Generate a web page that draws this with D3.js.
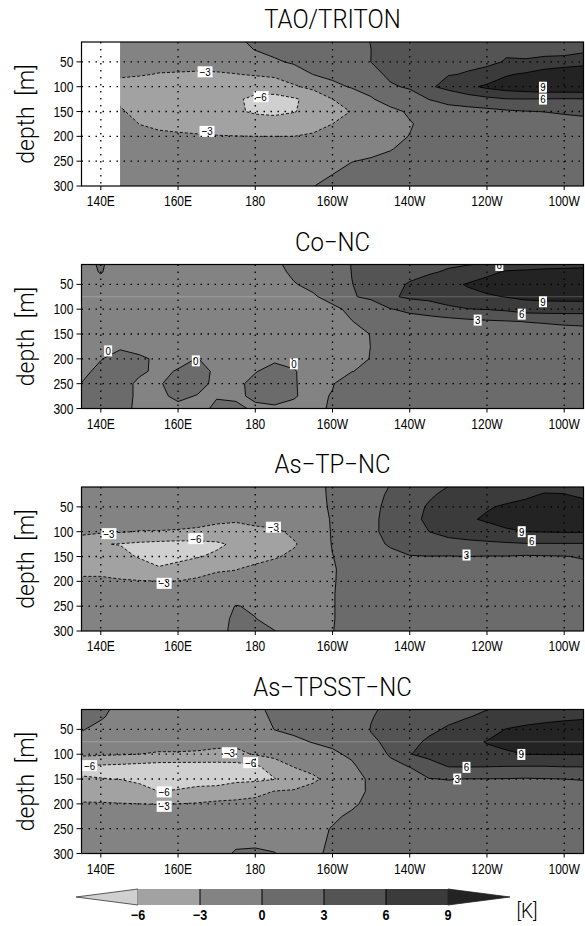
<!DOCTYPE html>
<html>
<head>
<meta charset="utf-8">
<script src="https://cdn.jsdelivr.net/npm/d3@7"></script>
<style>
  html, body { margin: 0; padding: 0; background: #fff; }
  svg { display: block; }
  text { font-family: "Liberation Sans", Arial, sans-serif; fill: #000; }
  text.light { font-family: Roboto, "Liberation Sans", sans-serif; font-weight: 300; }
</style>
</head>
<body>
<svg id="chart" width="585" height="926"></svg>
<script>
// ---- data -------------------------------------------------------------
// Temperature anomaly [K] profiles on a longitude x depth grid.
// Each profile lists the values at the depths below (0 .. 300 m).
const depths = [0, 25, 50, 75, 100, 125, 150, 175, 200, 225, 250, 275, 300];
const levels = [-6, -3, 0, 3, 6, 9];
const shades = ["#d0d0d0", "#a2a2a2", "#838383", "#6b6b6b", "#545454", "#3b3b3b", "#232323"];

const lonTicks = [140, 160, 180, 200, 220, 240, 260];
const lonTickLabels = ["140E", "160E", "180", "160W", "140W", "120W", "100W"];
const depthTicks = [50, 100, 150, 200, 250, 300];
const panelTitles = ["TAO/TRITON", "Co\u2212NC", "As\u2212TP\u2212NC", "As\u2212TPSST\u2212NC"];

const taoLons = [145, 150, 155, 160, 165, 170, 175, 180, 185, 190, 195, 200, 205,
                 210, 215, 220, 225, 230, 235, 240, 245, 250, 255, 260, 265];
const modelLons = [135, 140, 145, 150, 155, 160, 165, 170, 175, 180, 185, 190, 195, 200,
                   205, 210, 215, 220, 225, 230, 235, 240, 245, 250, 255, 260, 265];

const taoProfiles = [
  [-1.5, -2.0, -2.4, -2.8, -3.5, -3.3, -2.8, -2.3, -2.0, -1.8, -1.6, -1.5, -1.4],
  [-1.6, -2.0, -2.5, -2.9, -3.6, -3.8, -3.5, -3.02, -2.5, -2.1, -1.8, -1.6, -1.5],
  [-1.7, -2.1, -2.6, -3.05, -3.8, -4.2, -4.0, -3.4, -2.6, -2.2, -1.9, -1.7, -1.6],
  [-1.8, -2.2, -2.55, -3.1, -4.0, -4.6, -4.4, -3.6, -2.7, -2.3, -2.0, -1.8, -1.7],
  [-1.8, -2.2, -2.55, -3.15, -4.2, -5.0, -4.9, -3.8, -2.8, -2.3, -2.0, -1.8, -1.7],
  [-1.6, -2.0, -2.6, -3.1, -4.4, -5.4, -5.3, -4.0, -2.9, -2.4, -2.1, -1.9, -1.8],
  [-0.2, -1.0, -2.0, -3.05, -4.3, -5.5, -5.6, -4.3, -2.95, -2.4, -2.1, -1.9, -1.8],
  [0.6, 0.1, -1.4, -2.8, -4.5, -6.8, -6.4, -4.5, -3.0, -2.5, -2.2, -2.0, -1.8],
  [1.2, 0.6, -0.3, -2.5, -4.4, -7.0, -6.7, -4.5, -3.0, -2.5, -2.2, -2.0, -1.8],
  [1.6, 1.1, 0.3, -1.2, -3.4, -6.3, -6.15, -4.3, -3.0, -2.4, -2.0, -1.7, -1.5],
  [2.0, 1.5, 0.8, 0.05, -2.2, -5.2, -5.0, -3.8, -2.7, -2.0, -1.4, -0.7, -0.05],
  [2.3, 1.9, 1.3, 0.6, -0.6, -3.0, -4.0, -3.0, -2.2, -1.5, -0.8, -0.05, 0.6],
  [2.6, 2.2, 1.7, 1.0, 0.2, -1.5, -2.9, -2.2, -1.4, -0.7, -0.05, 0.6, 1.0],
  [3.05, 3.0, 3.02, 2.2, 0.8, -0.2, -1.6, -1.5, -1.0, -0.5, 0.2, 0.8, 1.2],
  [3.8, 3.8, 3.7, 3.5, 2.7, 1.0, -0.6, -0.8, -0.5, -0.1, 0.5, 1.0, 1.4],
  [4.2, 4.3, 4.3, 4.0, 3.3, 1.8, 0.3, -0.15, 0.05, 0.5, 1.0, 1.4, 1.7],
  [4.6, 4.8, 5.0, 5.3, 5.6, 3.05, 1.5, 0.6, 0.6, 0.9, 1.3, 1.6, 1.9],
  [4.9, 5.2, 5.6, 5.9, 6.8, 4.0, 1.8, 1.0, 0.8, 1.0, 1.4, 1.7, 2.0],
  [5.1, 5.4, 5.7, 6.1, 8.3, 4.6, 2.0, 1.3, 1.0, 1.1, 1.5, 1.8, 2.1],
  [5.3, 5.6, 5.7, 6.5, 9.6, 5.3, 2.2, 1.4, 1.1, 1.2, 1.5, 1.8, 2.1],
  [5.5, 5.8, 6.1, 8.7, 10.5, 5.9, 2.6, 1.5, 1.2, 1.3, 1.6, 1.9, 2.2],
  [5.6, 5.7, 6.1, 9.4, 11.0, 5.95, 2.9, 1.6, 1.2, 1.3, 1.6, 1.9, 2.2],
  [5.6, 5.5, 6.4, 10.8, 11.5, 5.9, 3.05, 1.8, 1.3, 1.3, 1.6, 1.9, 2.2],
  [5.5, 5.4, 6.6, 12.0, 11.5, 5.8, 3.3, 2.0, 1.4, 1.4, 1.6, 1.9, 2.2],
  [5.4, 5.4, 7.6, 12.0, 11.6, 5.9, 3.5, 2.2, 1.5, 1.4, 1.6, 1.9, 2.2]
];

const coNcProfiles = [
  [-1.0, -1.0, -1.0, -1.0, -1.0, -1.0, -1.0, -0.9, -0.8, -0.6, 0.05, 0.5, 0.6],
  [0.5, 0.15, -0.8, -1.0, -1.0, -1.0, -1.0, -0.8, -0.1, 0.6, 0.8, 0.8, 0.7],
  [-1.5, -1.2, -1.0, -1.0, -1.0, -1.0, -0.9, -0.3, 0.8, 0.9, 0.6, 0.4, 0.3],
  [-1.1, -1.0, -1.0, -1.0, -1.0, -1.0, -0.9, -0.6, 0.3, 0.25, -0.3, -0.2, -0.2],
  [-1.0, -1.0, -1.0, -1.0, -1.0, -1.0, -1.0, -0.8, -0.3, -0.3, -0.2, -0.4, -0.6],
  [-1.0, -1.0, -1.0, -1.0, -1.0, -1.0, -1.0, -0.8, -0.4, 0.1, 0.8, 0.4, -0.5],
  [-1.0, -1.0, -1.0, -1.0, -1.0, -1.0, -0.9, -0.6, 0.05, 0.8, 0.7, -0.1, -0.5],
  [-1.0, -1.0, -1.0, -1.0, -1.0, -1.0, -1.0, -0.8, -0.6, -0.4, -0.5, -0.1, 0.3],
  [-0.9, -1.0, -1.0, -1.0, -1.0, -1.0, -1.0, -0.9, -0.7, -0.6, -0.4, -0.3, 0.4],
  [-0.6, -0.8, -1.0, -1.0, -1.0, -1.0, -1.0, -0.9, -0.5, -0.1, 0.5, 0.3, -0.3],
  [-0.2, -0.5, -0.8, -1.0, -1.0, -1.0, -1.0, -0.9, -0.3, 0.6, 0.8, 0.5, -0.2],
  [0.6, 0.3, -0.1, -0.6, -0.9, -1.0, -1.0, -0.8, -0.4, 0.1, 0.1, 0.1, -0.3],
  [1.2, 0.9, 0.4, -0.2, -0.6, -0.8, -0.8, -0.8, -0.7, -0.6, -0.5, -0.4, -0.3],
  [1.8, 1.5, 1.1, 0.6, -0.4, -0.7, -0.8, -0.8, -0.6, -0.4, -0.1, 0.1, 0.15],
  [3.1, 3.05, 2.95, 2.8, 0.4, -0.05, -0.5, -0.5, -0.4, -0.05, 1.0, 1.2, 1.3],
  [3.6, 3.7, 3.8, 3.5, 1.4, 0.6, 0.05, 0.02, 0.05, 0.4, 1.2, 1.4, 1.5],
  [4.0, 4.3, 5.0, 5.6, 2.9, 1.2, 0.9, 0.9, 1.0, 1.1, 1.4, 1.6, 1.7],
  [4.3, 5.0, 6.3, 6.5, 3.5, 2.0, 1.2, 1.1, 1.1, 1.2, 1.4, 1.6, 1.7],
  [4.6, 5.6, 7.5, 7.0, 4.0, 2.1, 1.4, 1.2, 1.2, 1.3, 1.5, 1.7, 1.8],
  [5.0, 6.4, 8.3, 7.8, 5.2, 2.0, 1.4, 1.2, 1.2, 1.3, 1.5, 1.7, 1.8],
  [5.0, 7.2, 9.2, 8.3, 5.9, 2.3, 1.5, 1.3, 1.2, 1.3, 1.5, 1.7, 1.8],
  [5.2, 8.2, 10.2, 8.6, 6.1, 2.6, 1.6, 1.3, 1.2, 1.3, 1.5, 1.7, 1.8],
  [6.1, 9.3, 10.8, 9.1, 6.5, 2.8, 1.7, 1.4, 1.3, 1.3, 1.5, 1.7, 1.8],
  [6.5, 9.5, 11.2, 9.6, 7.3, 3.05, 1.8, 1.4, 1.3, 1.3, 1.5, 1.7, 1.8],
  [6.6, 9.8, 11.5, 9.8, 7.4, 3.2, 1.9, 1.5, 1.3, 1.3, 1.5, 1.7, 1.8],
  [6.6, 10.0, 11.6, 9.9, 7.4, 3.4, 2.0, 1.6, 1.4, 1.4, 1.5, 1.7, 1.8],
  [6.6, 10.2, 11.7, 9.9, 7.4, 3.5, 2.1, 1.7, 1.5, 1.4, 1.5, 1.7, 1.8]
];

const asTpNcProfiles = [
  [-1.0, -1.1, -1.3, -1.8, -2.6, -4.0, -4.5, -3.6, -2.6, -1.8, -1.4, -1.2, -1.1],
  [-1.0, -1.1, -1.3, -1.9, -2.6, -5.9, -5.0, -3.6, -2.6, -1.8, -1.4, -1.2, -1.1],
  [-1.0, -1.1, -1.3, -1.9, -2.8, -6.1, -5.0, -3.9, -2.8, -2.0, -1.5, -1.3, -1.2],
  [-1.0, -1.1, -1.3, -1.9, -3.1, -6.5, -6.3, -4.3, -2.9, -2.0, -1.5, -1.3, -1.2],
  [-1.0, -1.1, -1.4, -2.0, -3.1, -6.8, -6.8, -5.8, -2.95, -2.1, -1.6, -1.3, -1.2],
  [-1.0, -1.1, -1.4, -2.1, -3.2, -7.0, -6.8, -5.0, -2.95, -2.1, -1.6, -1.3, -1.2],
  [-1.0, -1.1, -1.4, -2.2, -3.4, -6.9, -6.2, -4.0, -2.6, -1.9, -1.5, -1.3, -1.2],
  [-1.0, -1.1, -1.5, -2.5, -3.8, -6.5, -5.5, -3.3, -2.2, -1.7, -1.2, -1.0, -0.8],
  [-1.0, -1.1, -1.6, -2.6, -4.2, -5.5, -4.8, -3.1, -2.1, -1.3, 0.1, 0.5, 0.6],
  [-1.0, -1.1, -1.6, -2.3, -3.6, -4.8, -3.8, -2.5, -1.8, -1.2, -0.3, 0.05, 0.4],
  [-0.9, -1.0, -1.4, -2.0, -3.4, -4.2, -3.2, -2.2, -1.6, -1.2, -1.0, -0.9, 0.05],
  [-0.8, -0.9, -1.2, -1.7, -2.6, -3.2, -2.6, -1.9, -1.5, -1.2, -1.0, -0.9, -0.8],
  [-0.5, -0.6, -0.8, -1.1, -1.6, -2.0, -1.8, -1.4, -1.2, -1.0, -0.8, -0.7, -0.6],
  [0.3, 0.3, 0.3, 0.2, 0.2, 0.15, -0.05, -0.2, -0.15, -0.1, -0.1, -0.1, -0.05],
  [1.3, 1.2, 1.1, 1.0, 1.0, 1.0, 0.9, 0.8, 0.7, 0.7, 0.7, 0.7, 0.7],
  [2.2, 2.3, 2.5, 2.6, 2.6, 2.2, 1.5, 1.2, 1.0, 0.9, 0.9, 0.9, 0.9],
  [2.95, 3.3, 3.5, 3.6, 3.6, 3.3, 2.3, 1.5, 1.2, 1.1, 1.0, 1.0, 1.0],
  [3.5, 4.0, 4.6, 5.1, 5.3, 4.0, 2.9, 1.8, 1.4, 1.2, 1.1, 1.1, 1.1],
  [4.0, 5.5, 6.4, 6.6, 6.0, 4.6, 2.95, 2.0, 1.5, 1.3, 1.2, 1.2, 1.2],
  [5.6, 6.8, 7.6, 8.0, 7.0, 4.9, 2.9, 2.0, 1.5, 1.3, 1.2, 1.2, 1.2],
  [6.3, 7.3, 8.2, 8.7, 7.5, 5.2, 3.0, 2.0, 1.5, 1.3, 1.2, 1.2, 1.2],
  [6.6, 7.8, 8.8, 9.3, 8.0, 5.4, 2.9, 2.0, 1.5, 1.3, 1.2, 1.2, 1.2],
  [6.8, 8.1, 9.3, 10.0, 8.6, 5.6, 2.9, 2.0, 1.5, 1.3, 1.2, 1.2, 1.2],
  [7.0, 8.5, 9.8, 10.5, 9.0, 5.8, 2.7, 2.0, 1.5, 1.3, 1.2, 1.2, 1.2],
  [7.5, 9.2, 10.5, 10.8, 9.1, 5.8, 2.8, 2.0, 1.5, 1.3, 1.2, 1.2, 1.2],
  [7.4, 9.1, 10.6, 10.9, 9.2, 5.8, 2.9, 2.1, 1.6, 1.4, 1.3, 1.3, 1.3],
  [7.0, 8.4, 10.2, 10.7, 9.2, 5.8, 3.2, 2.3, 1.7, 1.5, 1.4, 1.3, 1.3]
];

const asTpsstNcProfiles = [
  [0.6, 0.5, 0.1, -0.6, -2.4, -6.3, -5.9, -4.2, -2.8, -1.9, -1.4, -1.2, -1.1],
  [0.5, 0.15, -0.4, -1.2, -2.6, -6.5, -5.95, -4.4, -2.8, -1.9, -1.4, -1.2, -1.1],
  [-0.3, -0.5, -0.8, -1.4, -2.8, -6.7, -6.05, -4.6, -2.9, -2.0, -1.5, -1.3, -1.2],
  [-0.5, -0.7, -1.0, -1.6, -3.0, -7.0, -6.6, -5.0, -3.0, -2.1, -1.6, -1.3, -1.2],
  [-0.6, -0.8, -1.1, -1.8, -3.3, -7.3, -7.0, -6.0, -3.05, -2.1, -1.6, -1.3, -1.2],
  [-0.7, -0.9, -1.2, -2.2, -3.2, -7.4, -7.0, -5.8, -3.0, -2.1, -1.6, -1.3, -1.2],
  [-0.8, -1.0, -1.3, -2.2, -3.3, -7.4, -6.9, -5.4, -2.8, -2.0, -1.5, -1.3, -1.2],
  [-0.8, -1.0, -1.4, -2.3, -3.6, -7.3, -6.7, -5.4, -2.3, -1.9, -1.4, -1.2, -1.0],
  [-0.7, -0.9, -1.4, -2.4, -3.6, -7.2, -6.6, -4.5, -2.3, -1.7, -1.2, -0.6, 0.3],
  [-0.3, -0.6, -1.2, -2.2, -2.8, -6.6, -6.5, -4.0, -2.0, -1.5, -1.0, -0.5, 0.4],
  [0.5, 0.3, 0.05, -1.0, -2.2, -4.5, -6.1, -2.9, -1.6, -1.2, -0.8, -0.4, 0.05],
  [0.9, 0.7, 0.4, -0.4, -1.5, -2.9, -4.8, -2.7, -1.4, -1.0, -0.7, -0.5, -0.5],
  [1.2, 1.0, 0.7, 0.1, -0.9, -2.1, -3.5, -2.0, -1.0, -0.7, -0.5, -0.4, -0.3],
  [1.6, 1.4, 1.1, 0.5, -0.4, -1.3, -2.0, -1.3, -0.8, -0.3, 0.1, 0.2, 0.3],
  [2.0, 1.8, 1.6, 1.2, 0.4, -0.4, -0.9, -0.7, -0.3, 0.3, 0.6, 0.7, 0.8],
  [2.5, 2.9, 3.1, 2.7, 2.0, 1.2, 0.4, 0.3, 0.5, 0.8, 1.0, 1.1, 1.1],
  [3.5, 3.6, 3.7, 3.4, 3.2, 2.5, 1.4, 1.0, 1.0, 1.1, 1.2, 1.3, 1.3],
  [4.0, 4.4, 4.8, 5.3, 5.9, 3.05, 1.8, 1.3, 1.2, 1.2, 1.3, 1.4, 1.4],
  [4.4, 4.9, 5.5, 6.4, 6.8, 4.8, 2.9, 1.8, 1.4, 1.3, 1.3, 1.4, 1.4],
  [4.8, 5.4, 6.3, 7.4, 7.5, 6.05, 3.1, 2.0, 1.5, 1.3, 1.3, 1.4, 1.4],
  [5.2, 5.9, 7.2, 8.5, 8.3, 6.1, 2.95, 2.0, 1.5, 1.3, 1.3, 1.4, 1.4],
  [5.6, 6.5, 8.0, 9.1, 8.5, 6.05, 2.95, 2.0, 1.5, 1.3, 1.3, 1.4, 1.4],
  [6.2, 7.2, 9.1, 10.0, 8.5, 5.95, 2.9, 2.0, 1.5, 1.3, 1.3, 1.4, 1.4],
  [6.5, 7.8, 9.6, 10.5, 9.05, 5.9, 2.8, 1.9, 1.5, 1.3, 1.3, 1.4, 1.4],
  [6.6, 8.2, 9.9, 10.6, 9.1, 5.9, 2.9, 2.0, 1.5, 1.3, 1.3, 1.4, 1.4],
  [6.6, 8.5, 10.1, 10.7, 9.1, 6.05, 3.0, 2.1, 1.6, 1.4, 1.3, 1.4, 1.4],
  [6.6, 8.7, 10.2, 10.7, 9.1, 6.05, 3.1, 2.2, 1.7, 1.5, 1.4, 1.4, 1.4]
];

// contour labels: [longitude (deg E), depth (m), text]
const taoLabels = [[167, 70, "\u22123"], [181.5, 120, "\u22126"], [167.5, 190, "\u22123"],
                   [254.5, 101, "9"], [254.5, 125, "6"]];
const coNcLabels = [[243.2, 12, "6"], [254.5, 85, "9"], [249, 110, "6"], [237.6, 122, "3"],
                    [141.9, 184, "0"], [164.6, 204, "0"], [190, 210, "0"]];
const asTpNcLabels = [[142.1, 104, "\u22123"], [164.6, 114, "\u22126"], [184.7, 91, "\u22123"],
                      [156.4, 204, "\u22123"], [249, 100, "9"], [251.6, 118, "6"], [234.7, 147, "3"]];
const asTpsstNcLabels = [[137.1, 123, "\u22126"], [173.3, 97, "\u22123"], [178.8, 117, "\u22126"],
                         [156.4, 176, "\u22126"], [156.4, 205, "\u22123"], [248.9, 100.5, "9"],
                         [234.7, 126.5, "6"], [232.3, 150, "3"]];

const panels = [
  { title: panelTitles[0], lons: taoLons, profiles: taoProfiles, labels: taoLabels, seam: null },
  { title: panelTitles[1], lons: modelLons, profiles: coNcProfiles, labels: coNcLabels, seam: 75 },
  { title: panelTitles[2], lons: modelLons, profiles: asTpNcProfiles, labels: asTpNcLabels, seam: null },
  { title: panelTitles[3], lons: modelLons, profiles: asTpsstNcProfiles, labels: asTpsstNcLabels, seam: 75 }
];

// ---- layout -----------------------------------------------------------
const svg = d3.select("#chart");
const plotLeft = 81.5, plotRight = 583.5, plotH = 144;
const panelTops = [42, 264.5, 487, 709.5];
const x = d3.scaleLinear().domain([135, 265]).range([plotLeft, plotRight]);
const fill = d3.scaleThreshold().domain(levels).range(shades);

// text with horizontal compression (narrow plotting font)
function narrowText(g, tx, ty, str, size, sx, anchor, cls) {
  return g.append("text")
    .attr("class", cls || null)
    .attr("transform", `translate(${tx},${ty}) scale(${sx},1)`)
    .attr("text-anchor", anchor)
    .style("font-size", size + "px")
    .text(str);
}

panels.forEach((p, k) => {
  const top = panelTops[k];
  const y = d3.scaleLinear().domain([10, 300]).range([top, top + plotH]);
  const g = svg.append("g");
  const nx = p.lons.length, ny = depths.length;
  const dLon = p.lons[1] - p.lons[0], dDep = depths[1] - depths[0];

  // row-major grid for the contour generator
  const values = new Array(nx * ny);
  p.profiles.forEach((col, i) => col.forEach((v, j) => { values[j * nx + i] = v; }));

  const clipId = "clip" + k;
  g.append("clipPath").attr("id", clipId).append("rect")
    .attr("x", x(p.lons[0])).attr("y", top)
    .attr("width", x(265) - x(p.lons[0])).attr("height", plotH);

  const proj = d3.geoTransform({
    point(gx, gy) {
      this.stream.point(x(p.lons[0] + (gx - 0.5) * dLon), y(depths[0] + (gy - 0.5) * dDep));
    }
  });
  const path = d3.geoPath(proj);
  const contours = d3.contours().size([nx, ny]).thresholds(levels)(values);

  const plot = g.append("g").attr("clip-path", `url(#${clipId})`);
  plot.append("rect")
    .attr("x", x(p.lons[0])).attr("y", top)
    .attr("width", x(265) - x(p.lons[0])).attr("height", plotH)
    .attr("fill", shades[0]);
  plot.selectAll("path.band").data(contours).join("path")
    .attr("class", "band")
    .attr("d", path)
    .attr("fill", d => fill(d.value));

  // faint seam between shaded strips
  if (p.seam !== null) {
    plot.append("line")
      .attr("x1", plotLeft).attr("x2", plotRight)
      .attr("y1", y(p.seam)).attr("y2", y(p.seam))
      .attr("stroke", "#fff").attr("stroke-opacity", 0.22).attr("stroke-width", 1);
  }

  // dotted grid
  const grid = g.append("g").attr("stroke", "#000").attr("stroke-width", 1.3)
    .attr("stroke-dasharray", "1.5,5.5");
  lonTicks.forEach(l => grid.append("line")
    .attr("x1", x(l)).attr("x2", x(l)).attr("y1", top).attr("y2", top + plotH));
  depthTicks.filter(d => d < 300).forEach(d => grid.append("line")
    .attr("x1", plotLeft).attr("x2", plotRight).attr("y1", y(d)).attr("y2", y(d)));

  // contour lines: dashed for negative levels
  plot.selectAll("path.iso").data(contours).join("path")
    .attr("class", "iso")
    .attr("d", path)
    .attr("fill", "none")
    .attr("stroke", "#000")
    .attr("stroke-width", 0.9)
    .attr("stroke-dasharray", d => d.value < 0 ? "3,2" : null);

  // contour labels
  const lab = plot.append("g");
  p.labels.forEach(([lon, dep, txt]) => {
    const w = txt.length > 1 ? 15 : 8;
    lab.append("rect")
      .attr("x", x(lon) - w / 2).attr("y", y(dep) - 5.5)
      .attr("width", w).attr("height", 11).attr("fill", "#fff");
    narrowText(lab, x(lon), y(dep) + 4, txt, 11.5, 0.85, "middle");
  });

  // frame
  g.append("rect")
    .attr("x", plotLeft).attr("y", top).attr("width", plotRight - plotLeft).attr("height", plotH)
    .attr("fill", "none").attr("stroke", "#000").attr("stroke-width", 1.2);

  // axes
  const ax = g.append("g");
  lonTicks.forEach((l, i) => {
    ax.append("line").attr("x1", x(l)).attr("x2", x(l))
      .attr("y1", top + plotH).attr("y2", top + plotH + 4).attr("stroke", "#000");
    narrowText(ax, x(l), top + plotH + 20, lonTickLabels[i], 14.5, 0.83, "middle");
  });
  depthTicks.forEach(d => {
    ax.append("line").attr("x1", plotLeft - 5).attr("x2", plotLeft)
      .attr("y1", y(d)).attr("y2", y(d)).attr("stroke", "#000");
    narrowText(ax, plotLeft - 8, y(d) + 5, String(d), 14.5, 0.83, "end");
  });
  ax.append("text")
    .attr("class", "light")
    .attr("transform", `translate(34,${top + plotH / 2}) rotate(-90)`)
    .attr("text-anchor", "middle")
    .style("font-size", "23px")
    .style("word-spacing", "5px")
    .text("depth [m]");

  narrowText(g, (plotLeft + plotRight) / 2, top - 14, p.title, 26, 0.92, "middle", "light");
});

// ---- colour bar -------------------------------------------------------
const cb = svg.append("g");
const cx = d3.scaleLinear().domain([levels[0], levels[levels.length - 1]]).range([138, 448]);
const cbTop = 889, cbBot = 905, cbMid = (cbTop + cbBot) / 2;
const step = cx(levels[1]) - cx(levels[0]);
cb.append("path")
  .attr("d", `M${cx(levels[0])},${cbTop}L${cx(levels[0]) - step},${cbMid}L${cx(levels[0])},${cbBot}Z`)
  .attr("fill", shades[0]).attr("stroke", "#333").attr("stroke-width", 0.8);
d3.pairs(levels).forEach(([a, b], i) => {
  cb.append("rect").attr("x", cx(a)).attr("y", cbTop)
    .attr("width", cx(b) - cx(a)).attr("height", cbBot - cbTop)
    .attr("fill", shades[i + 1]);
});
const last = levels[levels.length - 1];
cb.append("path")
  .attr("d", `M${cx(last)},${cbTop}L${cx(last) + step},${cbMid}L${cx(last)},${cbBot}Z`)
  .attr("fill", shades[shades.length - 1]).attr("stroke", "#222").attr("stroke-width", 0.8);
levels.slice(1, -1).forEach(v => {
  cb.append("line").attr("x1", cx(v)).attr("x2", cx(v)).attr("y1", cbTop).attr("y2", cbBot)
    .attr("stroke", "#000").attr("stroke-width", 1);
});
levels.forEach(v => {
  narrowText(cb, cx(v), 920, v < 0 ? "\u2212" + Math.abs(v) : String(v), 14, 0.9, "middle")
    .style("font-weight", "bold");
});
narrowText(cb, 527, 918, "[K]", 21, 0.9, "middle", "light");
</script>
</body>
</html>
